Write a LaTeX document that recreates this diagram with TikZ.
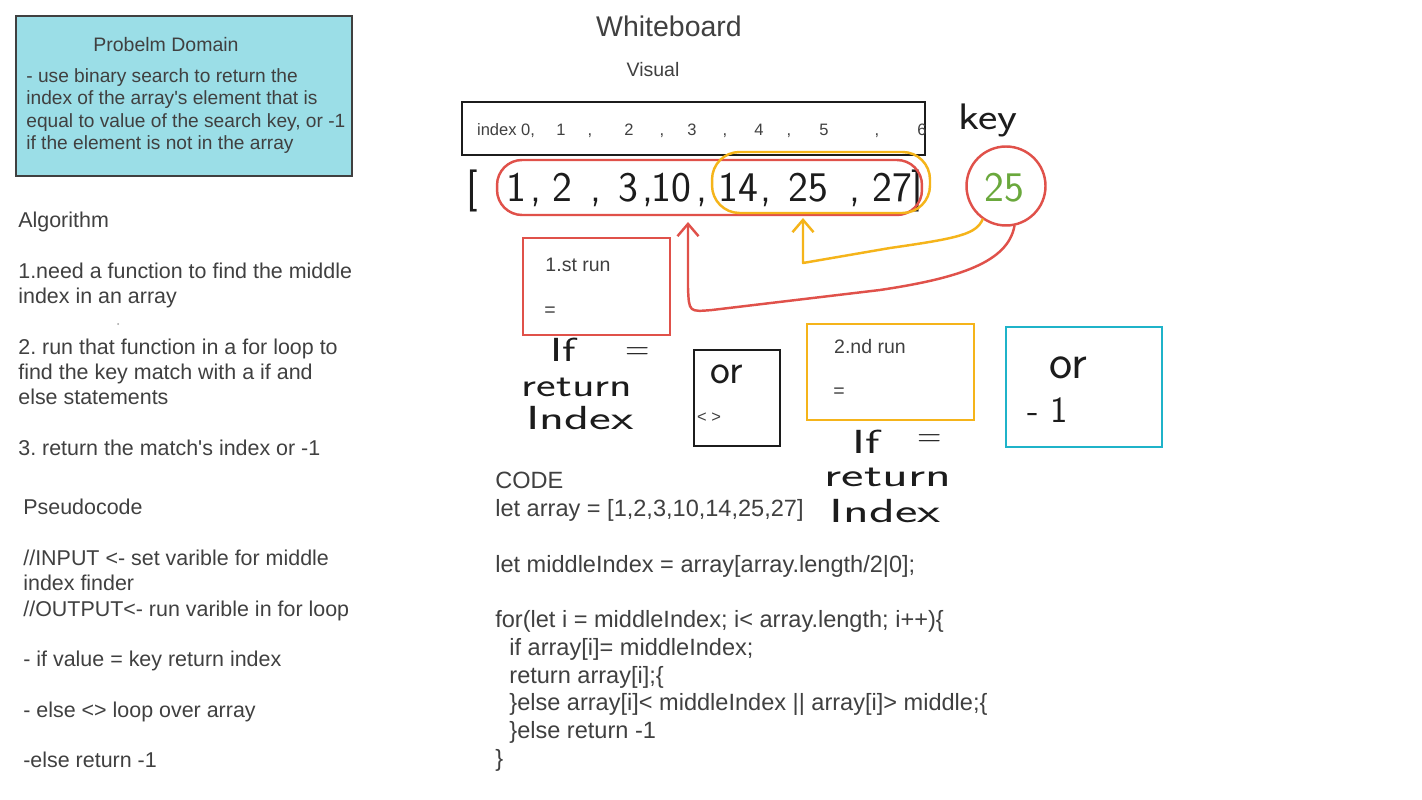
\documentclass[tikz,border=0pt]{standalone}
\usepackage{fontspec}
\usetikzlibrary{arrows.meta}
\newfontfamily\boardfont{Liberation Sans}

\definecolor{inkgray}{HTML}{404040}
\definecolor{domainfill}{HTML}{9BDEE7}
\definecolor{redink}{HTML}{E0514A}
\definecolor{yellowink}{HTML}{F5B41A}
\definecolor{cyanink}{HTML}{1FB3C9}
\definecolor{greenink}{HTML}{6AA83C}
\definecolor{handink}{HTML}{1C1C1C}

\tikzset{
  board/.style={font=\boardfont\frenchspacing, text=inkgray, inner sep=0pt},
  notes/.style={board, font=\boardfont\frenchspacing\fontsize{12.2}{14.4}\selectfont, align=left, anchor=north west},
  codetext/.style={board, font=\boardfont\frenchspacing\fontsize{13.4}{15.8}\selectfont, align=left, anchor=north west},
  small/.style={board, font=\boardfont\fontsize{11.1}{13}\selectfont},
  tiny/.style={board, font=\boardfont\fontsize{9.4}{11}\selectfont},
  hand/.style={font=\sffamily\fontsize{19}{19}\selectfont, text=handink, inner sep=0pt},
  handline/.style={line width=1.4pt, line cap=round, line join=round},
  runbox/.style={draw, line width=1.1pt, inner sep=0pt},
  barb/.style={-{Straight Barb[length=7pt,width=12pt]}}
}
\newcommand{\stretchword}[2]{\scalebox{#1}[1]{#2}}

\begin{document}
\begin{tikzpicture}[x=0.02cm, y=-0.02cm]
  \fill[white] (0,0) rectangle (1422,800);

  % problem domain
  \node[draw=inkgray, fill=domainfill, line width=1.2pt, minimum width=6.72cm, minimum height=3.2cm] (domain) at (184,96) {};
  \node[small] (domaintitle) at (166,45) {Probelm Domain};
  \node[board, font=\boardfont\frenchspacing\fontsize{10.9}{12.8}\selectfont, align=left, anchor=north west] (domaintext) at (26,68)
    {- use binary search to return the\\ index of the array's element that is\\ equal to value of the search key, or -1\\ if the element is not in the array};

  % algorithm and pseudocode
  \node[notes] (algo) at (18,212)
    {Algorithm\\ ~\\ 1.need a function to find the middle\\ index in an array\\ ~\\ 2. run that function in a for loop to\\ find the key match with a if and\\ else statements\\ ~\\ 3. return the match's index or -1};
  \fill[inkgray!50] (118,324) circle (1);
  \node[notes] (pseudo) at (23,499)
    {Pseudocode\\ ~\\ //INPUT <- set varible for middle\\ index finder\\ //OUTPUT<- run varible in for loop\\ ~\\ - if value = key return index\\ ~\\ - else <> loop over array\\ ~\\ -else return -1};

  % whiteboard
  \node[board, font=\boardfont\fontsize{16.2}{19}\selectfont] (title) at (669,26) {Whiteboard};
  \node[small] (visual) at (653,70) {Visual};

  \node[runbox, draw=handink, line width=1.3pt, minimum width=9.26cm, minimum height=1.06cm] (indexbar) at (693.5,128.5) {};
  \foreach \x/\t in {506/{index 0,}, 561/1, 590/{,}, 629/2, 662/{,}, 692/3, 725/{,}, 759/4, 789/{,}, 824/5, 877/{,}, 922/6}
    \node[tiny, anchor=base] at (\x,136) {\t};

  % handwritten array
  \foreach \x/\t in {472/{[}, 516/1, 536/{,}, 562/2, 596/{,}, 628/3, 648/{,}, 671/10, 702/{,}, 738/14, 766/{,}, 808/25, 855/{,}, 892/27, 917/{]}}
    \node[hand, font=\sffamily\fontsize{24}{24}\selectfont, anchor=base] at (\x,202) {\t};
  \node[hand, font=\sffamily\fontsize{21}{21}\selectfont] (keyword) at (988,120) {\stretchword{1.25}{key}};

  \node[draw=redink, handline, rounded corners=0.5cm, minimum width=8.5cm, minimum height=1.1cm] (allring) at (709.5,187.5) {};
  \node[draw=yellowink, handline, rounded corners=0.55cm, minimum width=4.36cm, minimum height=1.22cm] (upperring) at (821,182.5) {};
  \node[draw=redink, handline, circle, minimum size=1.58cm, inner sep=0pt] (keyring) at (1006,186) {};
  \node[hand, text=greenink, font=\sffamily\fontsize{24}{24}\selectfont] (keyvalue) at (1004,188) {25};

  \coordinate (redtip) at (688,222);
  \coordinate (yellowtip) at (803,218);
  \draw[redink, handline, barb] (keyring.282) .. controls (1008,262) and (960,278) .. (880,290)
    -- (712,310) .. controls (689,312) .. (688,288) -- (redtip);
  \draw[yellowink, handline, barb] (keyring.235) .. controls (976,234) and (960,238) .. (890,248)
    -- (803,263) -- (yellowtip);

  % runs
  \node[runbox, draw=redink, minimum width=2.94cm, minimum height=1.94cm] (run1) at (596.5,286.5) {};
  \node[small] at (578,265) {1.st run};
  \node[small] at (550,312) {=};
  \node[hand] (ifa) at (563,350) {\stretchword{1.4}{If}};
  \node[hand] (eqa) at (638,354) {=};
  \node[hand] (retA) at (577,387) {\stretchword{1.4}{return}};
  \node[hand] (idxA) at (580,418) {\stretchword{1.55}{Index}};

  \node[runbox, draw=handink, minimum width=1.72cm, minimum height=1.92cm] (orbox) at (737,398) {};
  \node[hand, font=\sffamily\fontsize{24}{24}\selectfont] at (727,374) {or};
  \node[tiny] at (709,418) {< >};

  \node[runbox, draw=yellowink, minimum width=3.34cm, minimum height=1.92cm] (run2) at (890.5,372) {};
  \node[small] at (870,347) {2.nd run};
  \node[small] at (839,393) {=};
  \node[hand] (ifb) at (866,442) {\stretchword{1.5}{If}};
  \node[hand] (eqb) at (930,441) {=};
  \node[hand] (retB) at (888,477) {\stretchword{1.6}{return}};
  \node[hand] (idxB) at (885,511) {\stretchword{1.6}{Index}};

  \node[runbox, draw=cyanink, minimum width=3.12cm, minimum height=2.4cm] (run3) at (1084,387) {};
  \node[hand, font=\sffamily\fontsize{28}{28}\selectfont] at (1068,368) {or};
  \node[hand, font=\sffamily\fontsize{21}{21}\selectfont] at (1048,410) {- 1};

  % code
  \node[codetext] (code) at (495,472)
    {CODE\\ let array = [1,2,3,10,14,25,27]\\ ~\\ let middleIndex = array[array.length/2|0];\\ ~\\
     for(let i = middleIndex; i< array.length; i++)\{\\
     \hspace*{8pt}if array[i]= middleIndex;\\
     \hspace*{8pt}return array[i];\{\\
     \hspace*{8pt}\}else array[i]< middleIndex || array[i]> middle;\{\\
     \hspace*{8pt}\}else return -1\\
     \}};
\end{tikzpicture}
\end{document}
